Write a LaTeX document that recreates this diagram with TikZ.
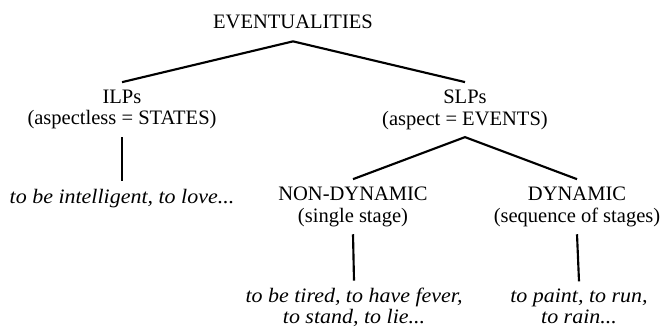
\documentclass[tikz,border=0pt]{standalone}
\usepackage{fontspec}
\setmainfont{Liberation Serif}
\newfontfamily\egfont{Liberation Serif Italic}[FakeStretch=1.07]

\begin{document}
\begin{tikzpicture}[x=0.75pt, y=-0.75pt, every path/.style={line width=1.6pt},
		every node/.style={align=center, inner sep=5pt, font=\fontsize{15.4}{16.2}\selectfont},
		eg/.style={font=\fontsize{15.4}{15.4}\egfont}]
		\useasboundingbox (0,0) rectangle (666,332);
		
		\node[inner sep=8.5pt] (ev) at (293, 22) {EVENTUALITIES};
		\node (ilp) at (122, 109.6) {ILPs\\(aspectless = STATES)};
		\node (slp) at (465, 109.6) {SLPs\\(aspect = EVENTS)};
		
		\node[eg] (ilpex) at (122, 198.5) {to be intelligent, to love...};
		
		\node (nondyn) at (353, 206.7) {NON-DYNAMIC\\(single stage)};
		\node (dyn) at (577, 206.7) {DYNAMIC\\(sequence of stages)};
		
		\node[eg] (nondynex) at (354, 307.4) {to be tired, to have fever,\\to stand, to lie...};
		\node[eg] (dynex) at (579, 306.3) {to paint, to run,\\to rain...};
		
		\draw (ilp.north) -- (ev.south) -- (slp.north);
		\draw (ilp.south) -- (ilpex.north);
		\draw (nondyn.north) -- (slp.south) -- (dyn.north);
		\draw (nondyn.south) -- (nondynex.north);
		\draw (dyn.south) -- (dynex.north);
		
	\end{tikzpicture}
\end{document}
